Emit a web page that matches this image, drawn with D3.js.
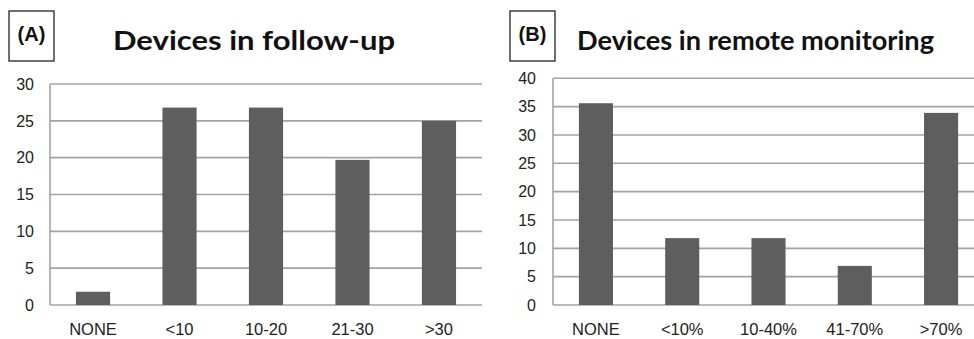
<!DOCTYPE html>
<html><head><meta charset="utf-8">
<script src="https://cdn.jsdelivr.net/npm/d3@7"></script>
<style>
html,body{margin:0;padding:0;background:#fff;}
svg{display:block;}
</style></head>
<body>
<script>
// Panel A
const catsA = ["NONE", "<10", "10-20", "21-30", ">30"];
const valsA = [1.8, 26.8, 26.8, 19.7, 25];
const ticksA = [0, 5, 10, 15, 20, 25, 30];
// Panel B
const catsB = ["NONE", "<10%", "10-40%", "41-70%", ">70%"];
const valsB = [35.6, 11.8, 11.8, 6.9, 33.9];
const ticksB = [0, 5, 10, 15, 20, 25, 30, 35, 40];

const W = 974, H = 339;
const svg = d3.select("body").append("svg").attr("width", W).attr("height", H);
const axisFont = "Liberation Sans, Arial, sans-serif";

function panel(cfg) {
  const g = svg.append("g");
  const x = d3.scaleBand().domain(cfg.cats).range([cfg.x0, cfg.x1]).paddingInner(0.605).paddingOuter(0.3);
  const y = d3.scaleLinear().domain([0, cfg.max]).range([cfg.yb, cfg.yt]);

  // gridlines
  g.selectAll("line.grid").data(cfg.ticks).join("line")
    .attr("x1", cfg.x0).attr("x2", cfg.x1)
    .attr("y1", d => y(d)).attr("y2", d => y(d))
    .attr("stroke", "#a3a3a3").attr("stroke-width", 1.6);
  // left axis line
  g.append("line").attr("x1", cfg.x0).attr("x2", cfg.x0)
    .attr("y1", y(0)).attr("y2", y(cfg.max))
    .attr("stroke", "#a3a3a3").attr("stroke-width", 1.6);

  // bars
  g.selectAll("rect.bar").data(cfg.vals).join("rect")
    .attr("x", (d, i) => x(cfg.cats[i]))
    .attr("width", x.bandwidth())
    .attr("y", d => y(d))
    .attr("height", d => y(0) - y(d))
    .attr("fill", "#5e5e5e");

  // y tick labels
  g.selectAll("text.yt").data(cfg.ticks).join("text")
    .attr("x", cfg.x0 - cfg.tickGap).attr("y", d => y(d))
    .attr("dy", "0.36em").attr("text-anchor", "end")
    .attr("font-family", axisFont)
    .attr("font-size", 16).attr("fill", "#222")
    .text(d => d);

  // x labels
  g.selectAll("text.xt").data(cfg.cats).join("text")
    .attr("x", d => x(d) + x.bandwidth() / 2).attr("y", 335)
    .attr("text-anchor", "middle")
    .attr("font-family", axisFont)
    .attr("font-size", 16.5).attr("fill", "#222")
    .text(d => d);

  // label box
  g.append("rect").attr("x", cfg.bx).attr("y", 11).attr("width", 45).attr("height", 50)
    .attr("fill", "none").attr("stroke", "#222").attr("stroke-width", 1.3);
  g.append("text").attr("x", cfg.bx + 22.5).attr("y", 41).attr("text-anchor", "middle")
    .attr("font-family", "Liberation Sans, Arial, sans-serif").attr("font-weight", "bold")
    .attr("font-size", 20).attr("fill", "#111").text(cfg.label);

  // title
  g.append("text").attr("x", cfg.tx).attr("y", 50)
    .attr("font-family", "Lato, Open Sans, sans-serif").attr("font-weight", "bold")
    .attr("font-size", 27).attr("fill", "#111")
    .attr("textLength", cfg.tw).attr("lengthAdjust", "spacingAndGlyphs")
    .text(cfg.title);
}

panel({cats: catsA, vals: valsA, ticks: ticksA, max: 30,
  x0: 50, x1: 482, yb: 305, yt: 84, bx: 9, label: "(A)", tickGap: 16,
  tx: 113, tw: 282, title: "Devices in follow-up"});
panel({cats: catsB, vals: valsB, ticks: ticksB, max: 40,
  x0: 553, x1: 984, yb: 305, yt: 78.3, bx: 510, label: "(B)", tickGap: 17,
  tx: 577, tw: 357, title: "Devices in remote monitoring"});
</script>
</body></html>
